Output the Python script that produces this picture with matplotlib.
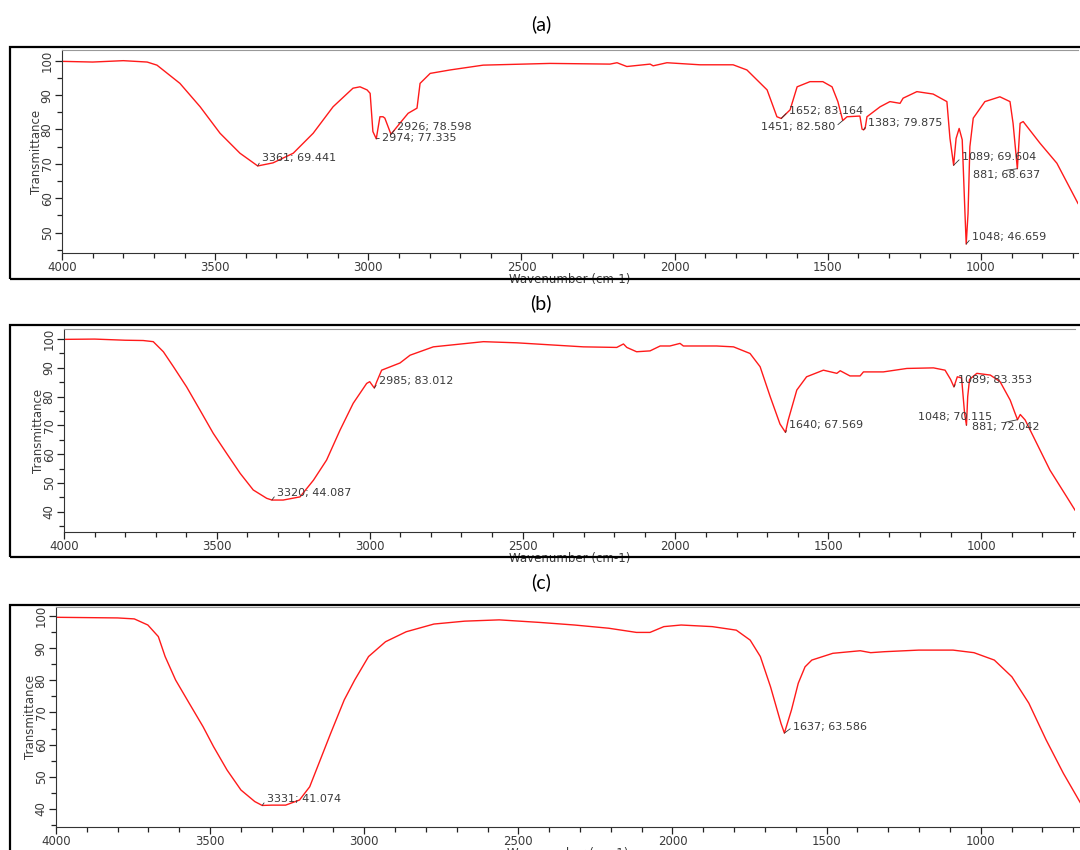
import matplotlib.pyplot as plt
from matplotlib.patches import Rectangle
from matplotlib.ticker import MultipleLocator

# FTIR spectra (wavenumber, % transmittance)
a_wn = [4000, 3900, 3800, 3722, 3690, 3615, 3549, 3484, 3419, 3361, 3311, 3245, 3180,
        3115, 3050, 3027, 3004, 2994, 2985, 2974, 2962, 2952, 2946, 2926, 2897, 2870,
        2841, 2831, 2798, 2733, 2625, 2407, 2211, 2188, 2156, 2080, 2070, 2025, 1917,
        1809, 1764, 1698, 1666, 1652, 1623, 1600, 1558, 1516, 1486, 1467, 1451, 1437,
        1395, 1388, 1383, 1378, 1372, 1329, 1297, 1264, 1254, 1209, 1156, 1111, 1101,
        1089, 1081, 1071, 1061, 1052, 1048, 1042, 1036, 1025, 987, 938, 905, 895, 881,
        872, 862, 807, 752, 683]
a_tr = [99.8, 99.6, 100.0, 99.6, 98.7, 93.4, 86.6, 78.9, 73.1, 69.4, 70.3, 73.1, 78.9,
        86.6, 92.0, 92.4, 91.5, 90.5, 79.4, 77.3, 83.7, 83.7, 83.3, 78.6, 81.8, 84.7,
        86.2, 93.4, 96.3, 97.3, 98.7, 99.2, 99.0, 99.4, 98.3, 99.0, 98.5, 99.4, 98.8,
        98.8, 97.3, 91.5, 83.7, 83.2, 85.7, 92.4, 93.9, 93.9, 92.4, 88.1, 82.6, 83.7,
        83.9, 80.1, 79.9, 80.3, 83.7, 86.6, 88.1, 87.6, 89.1, 91.0, 90.3, 88.1, 77.4,
        69.6, 77.4, 80.3, 77.0, 55.6, 46.7, 55.6, 75.0, 83.3, 88.1, 89.5, 88.1, 81.8, 68.6,
        81.8, 82.3, 76.0, 70.2, 58.5]

b_wn = [4000, 3900, 3800, 3741, 3708, 3675, 3642, 3599, 3555, 3512, 3468, 3424, 3381,
        3337, 3320, 3283, 3228, 3184, 3141, 3097, 3054, 3010, 3000, 2985, 2977, 2961,
        2901, 2868, 2792, 2628, 2519, 2301, 2192, 2170, 2159, 2127, 2083, 2050, 2018,
        1985, 1974, 1865, 1810, 1756, 1723, 1690, 1658, 1640, 1631, 1603, 1571, 1516,
        1472, 1461, 1429, 1396, 1385, 1320, 1243, 1156, 1118, 1100, 1089, 1078, 1064,
        1054, 1048, 1044, 1038, 1014, 970, 938, 905, 890, 881, 872, 856, 829, 775, 720, 693]
b_tr = [99.9, 100.0, 99.6, 99.5, 99.1, 95.6, 90.4, 83.4, 75.3, 67.3, 60.3, 53.4, 47.6,
        44.7, 44.1, 44.1, 45.2, 51.0, 58.0, 68.4, 77.7, 84.6, 85.2, 83.0, 85.2, 89.2,
        91.7, 94.4, 97.3, 99.1, 98.7, 97.3, 97.1, 98.3, 97.1, 95.6, 95.9, 97.6, 97.6,
        98.5, 97.6, 97.6, 97.3, 95.0, 90.4, 80.0, 70.5, 67.6, 71.9, 82.3, 86.9, 89.2,
        88.1, 89.0, 87.2, 87.2, 88.6, 88.6, 89.8, 90.0, 89.2, 86.0, 83.4, 86.9, 86.5,
        74.0, 70.1, 80.0, 86.0, 88.1, 87.5, 85.2, 78.8, 74.5, 72.0, 73.8, 71.9, 66.1,
        54.5, 45.2, 40.6]

c_wn = [4000, 3900, 3800, 3746, 3702, 3668, 3646, 3612, 3568, 3523, 3489, 3445, 3400,
        3355, 3331, 3300, 3255, 3210, 3177, 3143, 3109, 3065, 3031, 2986, 2931, 2864,
        2774, 2674, 2562, 2430, 2318, 2207, 2117, 2073, 2028, 1972, 1871, 1793, 1748,
        1715, 1682, 1648, 1637, 1614, 1592, 1570, 1548, 1480, 1391, 1357, 1313, 1201,
        1090, 1022, 956, 899, 844, 788, 732, 676]
c_tr = [99.6, 99.5, 99.4, 99.1, 97.2, 93.6, 87.4, 80.1, 72.9, 65.6, 59.4, 52.1, 45.9,
        42.3, 41.1, 41.2, 41.2, 42.8, 46.9, 55.2, 63.5, 73.9, 80.1, 87.4, 92.0, 95.1,
        97.5, 98.4, 98.8, 98.0, 97.2, 96.2, 94.9, 94.9, 96.7, 97.2, 96.7, 95.6, 92.5,
        87.4, 78.0, 66.6, 63.6, 70.8, 79.1, 84.2, 86.3, 88.4, 89.2, 88.6, 88.9, 89.4,
        89.4, 88.6, 86.3, 81.1, 72.9, 61.5, 51.1, 41.8]

# peak labels: text, peak (wn, T), text anchor (wn, T), text alignment, leader start
a_peaks = [("3361; 69.441", 3361, 69.4, 3347, 71.7, 'left', (0, 0.5)),
           ("2926; 78.598", 2926, 78.6, 2906, 80.7, 'left', (0, 0.5)),
           ("2974; 77.335", 2974, 77.3, 2955, 77.5, 'left', (0, 0.5)),
           ("1652; 83.164", 1652, 83.2, 1627, 85.4, 'left', (0, 0.5)),
           ("1451; 82.580", 1451, 82.6, 1476, 80.7, 'right', (1, 0.5)),
           ("1383; 79.875", 1383, 79.9, 1369, 81.9, 'left', (0, 0.5)),
           ("1089; 69.604", 1089, 69.6, 1062, 72.0, 'left', (0, 0.5)),
           ("881; 68.637", 881, 68.6, 1026, 66.7, 'left', (0.5, 1)),
           ("1048; 46.659", 1048, 46.7, 1029, 48.7, 'left', (0, 0.5))]
b_peaks = [("3320; 44.087", 3320, 44.1, 3303, 46.5, 'left', (0, 0.5)),
           ("2985; 83.012", 2985, 83.0, 2970, 85.4, 'left', (0, 0.5)),
           ("1640; 67.569", 1640, 67.6, 1628, 70.1, 'left', (0, 0.5)),
           ("1089; 83.353", 1089, 83.4, 1076, 85.8, 'left', (0, 0.5)),
           ("1048; 70.115", 1048, 70.1, 1206, 72.9, 'left', (0.55, 0.5)),
           ("881; 72.042", 881, 72.0, 1030, 69.4, 'left', (0.5, 1))]
c_peaks = [("3331; 41.074", 3331, 41.1, 3316, 43.1, 'left', (0, 0.5)),
           ("1637; 63.586", 1637, 63.6, 1609, 65.6, 'left', (0, 0.5))]

W, H = 1080, 850


def fig_rect(l, t, r, b):
    return [l / W, 1 - b / H, (r - l) / W, (b - t) / H]


fig = plt.figure(figsize=(10.8, 8.5), dpi=100)

panels = [
    # title, title y, frame top/bottom, axes box (px), xlim right, ylim, y ticks, data, peaks
    ("(a)", 24, 47, 279, (62, 50, 1078, 253), 683, (44.1, 103.1), range(50, 101, 10), a_wn, a_tr, a_peaks),
    ("(b)", 303, 325, 557, (64, 329, 1075, 532), 693, (33.0, 103.5), range(40, 101, 10), b_wn, b_tr, b_peaks),
    ("(c)", 582, 605, 862, (56, 607, 1080, 827), 678, (34.4, 102.8), range(40, 101, 10), c_wn, c_tr, c_peaks),
]

for title, ty, ft, fb, box, xr, ylim, yt, wn, tr, peaks in panels:
    fig.text(541 / W, 1 - ty / H, title, ha='center', va='center',
             fontsize=14, family=['Lato', 'DejaVu Sans'], color='black')
    fig.add_artist(Rectangle((10 / W, 1 - fb / H), 1.1, (fb - ft) / H,
                             transform=fig.transFigure, fill=False,
                             edgecolor='black', lw=1.6, zorder=5))

    ax = fig.add_axes(fig_rect(*box))
    ax.plot(wn, tr, color='#ff1a1a', lw=1.0)
    ax.set_xlim(4000, xr)
    ax.set_ylim(*ylim)

    ax.xaxis.set_major_locator(MultipleLocator(500))
    ax.xaxis.set_minor_locator(MultipleLocator(100))
    ax.set_yticks(list(yt))
    ax.yaxis.set_minor_locator(MultipleLocator(5))
    ax.tick_params(which='major', length=5, width=0.9, color='#222222',
                   labelsize=8.5, labelcolor='#3a3a3a', pad=1)
    ax.tick_params(which='minor', length=3.5, width=0.9, color='#222222')
    for lab in ax.get_yticklabels():
        lab.set_rotation(90)
        lab.set_va('center')

    ax.spines['right'].set_visible(False)
    ax.spines['top'].set_color('#999999')
    ax.spines['left'].set_color('#333333')
    ax.spines['bottom'].set_color('#333333')

    ax.set_xlabel("Wavenumber (cm-1)", fontsize=8.5, color='#3a3a3a', labelpad=-1)
    ax.set_ylabel("Transmittance", fontsize=8.5, color='#3a3a3a', labelpad=-2,
                  family=['Liberation Sans Narrow', 'DejaVu Sans'])

    for text, pw, pt, tw, tt, ha, rp in peaks:
        ax.annotate(text, xy=(pw, pt), xytext=(tw, tt), fontsize=8,
                    color='#3a3a3a', ha=ha, va='center',
                    arrowprops=dict(arrowstyle='-', color='#333333', lw=0.6,
                                    shrinkA=0, shrinkB=0, relpos=rp))

fig.savefig("out.png", dpi=100)
